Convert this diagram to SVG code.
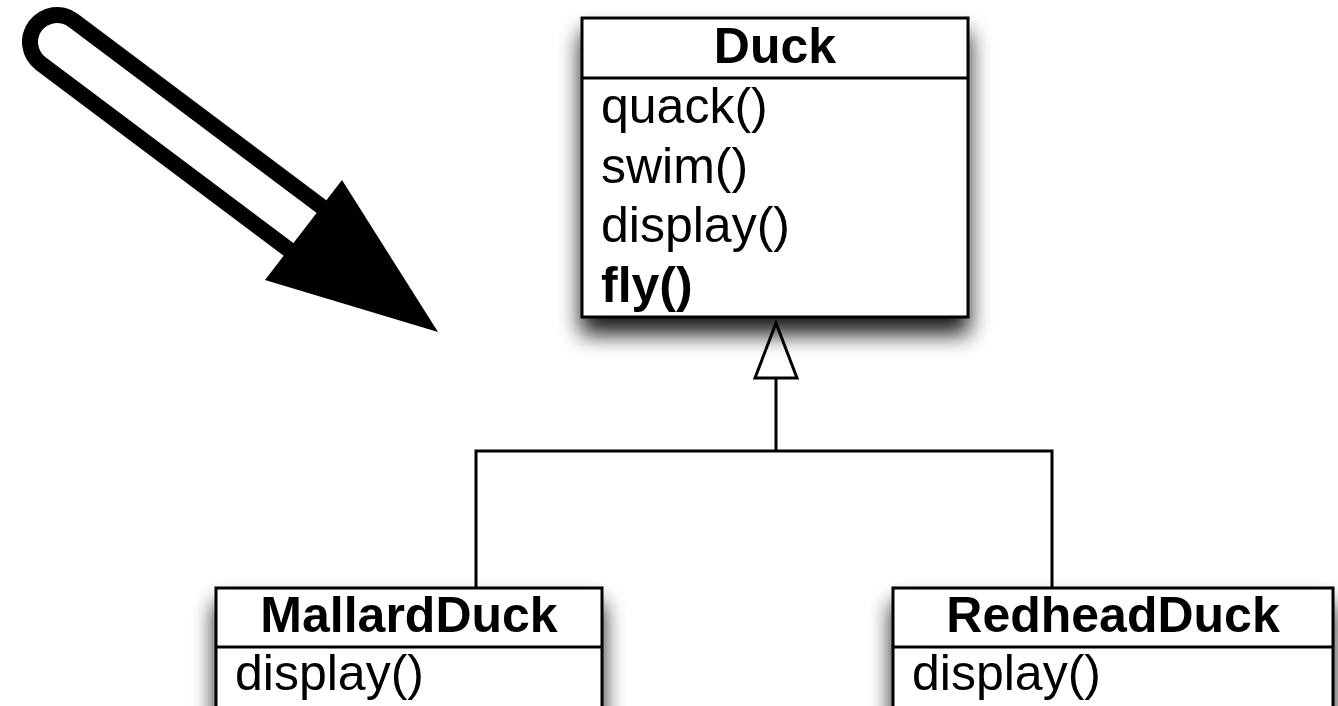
<svg xmlns="http://www.w3.org/2000/svg" width="1338" height="706" viewBox="0 0 1338 706">
<defs>
<filter id="shadow" x="-20%" y="-20%" width="140%" height="160%">
<feGaussianBlur in="SourceAlpha" stdDeviation="11"/>
<feOffset dx="0" dy="16" result="b"/>
<feComponentTransfer><feFuncA type="linear" slope="0.9"/></feComponentTransfer>
<feMerge><feMergeNode/><feMergeNode in="SourceGraphic"/></feMerge>
</filter>
</defs>
<style>
.box{fill:#fff;stroke:#000;stroke-width:3}
.div{stroke:#000;stroke-width:3}
.title{font-family:"Liberation Sans",Arial,sans-serif;font-size:50px;font-weight:bold;text-anchor:middle;fill:#000}
.op{font-family:"Liberation Sans",Arial,sans-serif;font-size:50px;fill:#000}
.conn{fill:none;stroke:#000;stroke-width:3}
</style>
<rect width="1338" height="706" fill="#fff"/>
<g id="pointer-arrow">
<line x1="57" y1="42" x2="305" y2="228" stroke="#000" stroke-width="70" stroke-linecap="round"/>
<line x1="57" y1="42" x2="305" y2="228" stroke="#fff" stroke-width="38" stroke-linecap="round"/>
<polygon points="342,180 438,332 265,280" fill="#000"/>
</g>
<g id="connectors">
<polyline class="conn" points="476,588 476,451 1052,451 1052,588"/>
<line class="conn" x1="776" y1="451" x2="776" y2="378"/>
<polygon points="776,323 797,378 755,378" fill="#fff" stroke="#000" stroke-width="3"/>
</g>
<g id="duck">
<rect class="box" x="582" y="18" width="386" height="299" filter="url(#shadow)"/>
<line class="div" x1="582" y1="78" x2="968" y2="78"/>
<text class="title" x="775" y="63">Duck</text>
<text class="op" x="601" y="123">quack()</text>
<text class="op" x="601" y="183">swim()</text>
<text class="op" x="601" y="242">display()</text>
<text class="op" x="601" y="302" font-weight="bold">fly()</text>
</g>
<g id="mallard-duck">
<rect class="box" x="216" y="588" width="386" height="140" filter="url(#shadow)"/>
<line class="div" x1="216" y1="647" x2="602" y2="647"/>
<text class="title" x="409" y="632">MallardDuck</text>
<text class="op" x="235" y="690">display()</text>
</g>
<g id="redhead-duck">
<rect class="box" x="893" y="588" width="440" height="140" filter="url(#shadow)"/>
<line class="div" x1="893" y1="647" x2="1333" y2="647"/>
<text class="title" x="1113" y="632">RedheadDuck</text>
<text class="op" x="912" y="690">display()</text>
</g>
</svg>
